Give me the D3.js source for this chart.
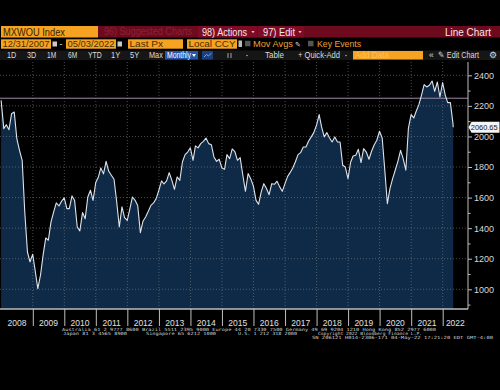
<!DOCTYPE html>
<html lang="en">
<head>
  <meta charset="UTF-8">
  <title>MXWOU Index</title>
  <style>
  body { margin: 0; background: #000; }
  svg { display: block; background: #000; }
  .ui { font-family: "Liberation Sans", Arial, sans-serif; }
  .grid line { stroke: #8a8a8a; stroke-dasharray: 1,2; stroke-opacity: 0.55; }
  .yaxis text { fill: #d8d8d8; font-family: "Liberation Sans", Arial, sans-serif; font-size: 9px; }
  .yaxis line { stroke: #bfbfbf; }
  .yaxis path, .xaxis path { display: none; }
  .xaxis line { stroke: #bfbfbf; }
  .foot { fill: #d0d0d0; font-family: "DejaVu Sans Mono", monospace; font-size: 4.3px; }
  </style>
</head>
<body>
  <svg width="500" height="390"></svg>
  <script src="https://d3js.org/d3.v7.min.js"></script>
  <script>

  // monthly closes, Dec 2007 .. Apr 2022 (month ends)
  var closes = [
    2236, 2051, 2077, 2044, 2149, 2160, 1986, 1909, 1844, 1506, 1244, 1179, 1229,
    1113, 1004, 1092, 1222, 1336, 1321, 1441, 1506, 1565, 1545, 1576, 1598,
    1528, 1528, 1611, 1582, 1408, 1382, 1502, 1462, 1604, 1648, 1582, 1698,
    1735, 1794, 1755, 1837, 1772, 1746, 1720, 1571, 1408, 1539, 1469, 1451,
    1528, 1604, 1582, 1549, 1371, 1445, 1473, 1510, 1549, 1565, 1593, 1648,
    1709, 1689, 1709, 1763, 1713, 1654, 1735, 1713, 1833, 1881, 1898, 1925,
    1844, 1938, 1925, 1953, 1968, 1990, 1953, 1946, 1866, 1837, 1851, 1794,
    1785, 1881, 1855, 1918, 1900, 1844, 1861, 1746, 1641, 1757, 1724, 1676,
    1582, 1556, 1637, 1691, 1659, 1619, 1691, 1687, 1707, 1670, 1641, 1691,
    1739, 1763, 1794, 1833, 1881, 1894, 1931, 1931, 1968, 1997, 2025, 2073,
    2143, 2062, 1997, 2025, 1990, 1964, 1997, 1964, 1964, 1811, 1800, 1724,
    1833, 1872, 1877, 1916, 1829, 1920, 1898, 1851, 1903, 1946, 1975, 2034,
    1990, 1789, 1560, 1659, 1724, 1779, 1837, 1909, 1855, 1779, 2055, 2143,
    2121, 2165, 2208, 2269, 2339, 2324, 2335, 2363, 2295, 2356, 2258, 2352,
    2269, 2221, 2221, 2084
  ];
  var lastDate = '2022-05-03';
  var lastPx = 2060.65;
  var refLevel = 2250;

  var years = [2008, 2009, 2010, 2011, 2012, 2013, 2014, 2015, 2016, 2017, 2018, 2019, 2020, 2021, 2022];
  var yTicks = [1000, 1200, 1400, 1600, 1800, 2000, 2200, 2400];
  var yMinor = [900, 1100, 1300, 1500, 1700, 1900, 2100, 2300];

  var footLines = [
    'Australia 61 2 9777 8600 Brazil 5511 2395 9000 Europe 44 20 7330 7500 Germany 49 69 9204 1210 Hong Kong 852 2977 6000',
    'Japan 81 3 4565 8900',
    'Singapore 65 6212 1000',
    'U.S. 1 212 318 2000',
    'Copyright 2022 Bloomberg Finance L.P.',
    'SN 206121 H014-2306-171 04-May-22 17:21:20 EDT  GMT-4:00'
  ];

  var svg = d3.select('svg');

  var plot = { left: 0, right: 468, top: 62, bottom: 309 };

  var x = d3.scaleTime()
            .domain([new Date(2008, 0, 1), new Date(2022, 0, 1)])
            .range([1.2, 442.7]);

  var y = d3.scaleLinear()
            .domain([1000, 2400])
            .range([289.3, 75.3]);

  // month-end dates for the series, then the last print
  var data = closes.map(function (v, i) {
    var d = d3.timeDay.offset(d3.timeMonth.offset(new Date(2008, 0, 1), i), -1);
    return { date: d, value: v };
  });
  data.push({ date: d3.timeParse('%Y-%m-%d')(lastDate), value: lastPx });

  /* ---------- header bars ---------- */
  var head = svg.append('g').attr('class', 'ui');

  function caret(cx, cy, col) {
    head.append('path')
        .attr('d', 'M' + (cx - 1.6) + ',' + (cy - 1) + ' L' + (cx + 1.6) + ',' + (cy - 1) + ' L' + cx + ',' + (cy + 1.2) + 'Z')
        .attr('fill', col);
  }

  head.append('rect').attr('x', 98).attr('y', 26).attr('width', 402).attr('height', 11.5).attr('fill', '#6e0a1d');
  head.append('rect').attr('x', 198).attr('y', 26).attr('width', 59).attr('height', 11.5).attr('fill', '#7f0c24');
  head.append('rect').attr('x', 258).attr('y', 26).attr('width', 46).attr('height', 11.5).attr('fill', '#7f0c24');
  head.append('rect').attr('x', 1).attr('y', 26).attr('width', 97).attr('height', 11.5).attr('fill', '#f6a321');

  head.append('text').attr('x', 3).attr('y', 35.5).attr('font-size', 10.5).attr('fill', '#3a2200')
      .attr('textLength', 62).attr('lengthAdjust', 'spacingAndGlyphs').text('MXWOU Index');
  head.append('text').attr('x', 104).attr('y', 35.3).attr('font-size', 10).attr('fill', '#8a2238')
      .attr('textLength', 88).attr('lengthAdjust', 'spacingAndGlyphs').text('96) Suggested Charts');
  head.append('text').attr('x', 202).attr('y', 35.5).attr('font-size', 10.5).attr('fill', '#f2e6e8')
      .attr('textLength', 45).attr('lengthAdjust', 'spacingAndGlyphs').text('98) Actions');
  caret(253, 32, '#e0c0c6');
  head.append('text').attr('x', 263).attr('y', 35.5).attr('font-size', 10.5).attr('fill', '#f2e6e8')
      .attr('textLength', 32).attr('lengthAdjust', 'spacingAndGlyphs').text('97) Edit');
  caret(300, 32, '#e0c0c6');
  head.append('text').attr('x', 445).attr('y', 35.5).attr('font-size', 10.5).attr('fill', '#f2e6e8')
      .attr('textLength', 46).attr('lengthAdjust', 'spacingAndGlyphs').text('Line Chart');

  // second row: date range and pricing boxes
  var boxes2 = [
    { x: 1, w: 50, t: '12/31/2007' },
    { x: 66, w: 50, t: '05/03/2022' },
    { x: 128, w: 55, t: 'Last Px' },
    { x: 187, w: 50, t: 'Local CCY' }
  ];
  boxes2.forEach(function (b) {
    head.append('rect').attr('x', b.x).attr('y', 39.3).attr('width', b.w).attr('height', 9.4).attr('fill', '#f6a321');
    head.append('text').attr('x', b.x + 1.5).attr('y', 47.4).attr('font-size', 9.5).attr('fill', '#4a2c00')
        .attr('textLength', b.t.length > 8 ? b.w - 3 : b.t.length * 4.8)
        .attr('lengthAdjust', 'spacingAndGlyphs').text(b.t);
  });
  [52.5, 117.5].forEach(function (cx) {
    head.append('rect').attr('x', cx).attr('y', 41.5).attr('width', 4.5).attr('height', 5).attr('fill', '#c9c9c9');
  });
  head.append('text').attr('x', 59.5).attr('y', 47).attr('font-size', 9).attr('fill', '#ddd').text('-');
  head.append('rect').attr('x', 238.5).attr('y', 40.5).attr('width', 3.5).attr('height', 6.5).attr('fill', '#bbb');
  head.append('rect').attr('x', 245).attr('y', 40.8).attr('width', 5.5).attr('height', 5.5).attr('fill', '#555');
  head.append('text').attr('x', 253).attr('y', 47.4).attr('font-size', 9.5).attr('fill', '#e8a23a')
      .attr('textLength', 40).attr('lengthAdjust', 'spacingAndGlyphs').text('Mov Avgs');
  head.append('text').attr('x', 295).attr('y', 47.2).attr('font-size', 7).attr('fill', '#ddd').text('✎');
  head.append('rect').attr('x', 308).attr('y', 40.8).attr('width', 5.5).attr('height', 5.5).attr('fill', '#555');
  head.append('text').attr('x', 317).attr('y', 47.4).attr('font-size', 9.5).attr('fill', '#e8a23a')
      .attr('textLength', 44).attr('lengthAdjust', 'spacingAndGlyphs').text('Key Events');

  // third row: toolbar
  head.append('rect').attr('x', 0).attr('y', 50.5).attr('width', 500).attr('height', 9.5).attr('fill', '#161616');
  var periods = [['1D', 7], ['3D', 27], ['1M', 47], ['6M', 68], ['YTD', 88], ['1Y', 111], ['5Y', 130], ['Max', 149]];
  periods.forEach(function (p) {
    head.append('text').attr('x', p[1]).attr('y', 58.3).attr('font-size', 8.5).attr('fill', '#dcdcdc')
        .attr('textLength', p[0].length * 4.6).attr('lengthAdjust', 'spacingAndGlyphs').text(p[0]);
  });
  head.append('rect').attr('x', 165).attr('y', 51).attr('width', 33).attr('height', 8.5).attr('fill', '#2457a8');
  head.append('text').attr('x', 167).attr('y', 58.3).attr('font-size', 8.5).attr('fill', '#fff')
      .attr('textLength', 24).attr('lengthAdjust', 'spacingAndGlyphs').text('Monthly');
  head.append('path').attr('d', 'M192,54 L196,54 L194,57Z').attr('fill', '#fff');
  head.append('rect').attr('x', 202).attr('y', 51).attr('width', 11).attr('height', 8.5).attr('fill', '#1d3f7a');
  head.append('path').attr('d', 'M204,57 L206.5,54.5 L208.5,56 L211.5,53').attr('fill', 'none').attr('stroke', '#7fb0ff').attr('stroke-width', 0.9);
  head.append('path').attr('d', 'M228,53 L228,58 M231,53 L231,58').attr('stroke', '#ccc').attr('stroke-width', 0.8);
  head.append('circle').attr('cx', 247).attr('cy', 55.5).attr('r', 0.7).attr('fill', '#ccc');
  head.append('text').attr('x', 265).attr('y', 58.3).attr('font-size', 8.5).attr('fill', '#dcdcdc')
      .attr('textLength', 19).attr('lengthAdjust', 'spacingAndGlyphs').text('Table');
  head.append('text').attr('x', 298).attr('y', 58.3).attr('font-size', 8.5).attr('fill', '#dcdcdc')
      .attr('textLength', 42).attr('lengthAdjust', 'spacingAndGlyphs').text('+ Quick-Add');
  head.append('circle').attr('cx', 346).attr('cy', 55.5).attr('r', 0.7).attr('fill', '#ccc');
  head.append('rect').attr('x', 353).attr('y', 51).attr('width', 70).attr('height', 8.5).attr('fill', '#f6a321');
  head.append('text').attr('x', 355).attr('y', 58.3).attr('font-size', 8.5).attr('fill', '#f8c36a')
      .attr('textLength', 34).attr('lengthAdjust', 'spacingAndGlyphs').text('Add Data');
  head.append('text').attr('x', 429).attr('y', 58.3).attr('font-size', 8.5).attr('fill', '#dcdcdc').text('«');
  head.append('text').attr('x', 438).attr('y', 58.3).attr('font-size', 8.5).attr('fill', '#dcdcdc')
      .attr('textLength', 41).attr('lengthAdjust', 'spacingAndGlyphs').text('✎ Edit Chart');
  head.append('text').attr('x', 489).attr('y', 58.3).attr('font-size', 8.5).attr('fill', '#dcdcdc').text('⚙');

  /* ---------- chart ---------- */
  var area = d3.area()
               .x(function (d) { return x(d.date); })
               .y0(plot.bottom)
               .y1(function (d) { return y(d.value); });

  var line = d3.line()
               .x(function (d) { return x(d.date); })
               .y(function (d) { return y(d.value); });

  svg.append('path').datum(data).attr('d', area).attr('fill', '#0e2a47');

  // dotted grid, drawn over the fill like the terminal does
  var grid = svg.append('g').attr('class', 'grid');
  grid.selectAll('.h').data(yTicks).enter().append('line')
      .attr('x1', plot.left).attr('x2', plot.right)
      .attr('y1', function (d) { return y(d); }).attr('y2', function (d) { return y(d); });
  grid.selectAll('.v').data(years.slice(1)).enter().append('line')
      .attr('x1', function (d) { return x(new Date(d, 0, 1)); })
      .attr('x2', function (d) { return x(new Date(d, 0, 1)); })
      .attr('y1', plot.top).attr('y2', plot.bottom);

  svg.append('line')
     .attr('x1', plot.left).attr('x2', plot.right)
     .attr('y1', y(refLevel)).attr('y2', y(refLevel))
     .attr('stroke', '#9d8aa6').attr('stroke-width', 1);

  svg.append('path').datum(data).attr('d', line)
     .attr('fill', 'none').attr('stroke', '#dde4ec').attr('stroke-width', 1.1)
     .attr('stroke-linejoin', 'round');

  // frame
  svg.append('line').attr('x1', plot.left).attr('x2', plot.right)
     .attr('y1', plot.bottom).attr('y2', plot.bottom)
     .attr('stroke', '#bdbdbd').attr('stroke-width', 1.5);
  svg.append('line').attr('x1', plot.right).attr('x2', plot.right)
     .attr('y1', plot.top).attr('y2', plot.bottom)
     .attr('stroke', '#bdbdbd').attr('stroke-width', 1);

  // right axis
  svg.append('g').attr('class', 'yaxis')
     .attr('transform', 'translate(' + plot.right + ',0)')
     .call(d3.axisRight(y).tickValues(yMinor).tickSize(2.5).tickFormat(''));
  svg.append('g').attr('class', 'yaxis')
     .attr('transform', 'translate(' + plot.right + ',0)')
     .call(d3.axisRight(y).tickValues(yTicks).tickSize(4).tickPadding(2).tickFormat(d3.format('d')));

  // bottom year separators
  svg.append('g').attr('class', 'xaxis')
     .attr('transform', 'translate(0,' + plot.bottom + ')')
     .call(d3.axisBottom(x).tickValues(years.slice(1).map(function (d) { return new Date(d, 0, 1); }))
             .tickSize(17).tickFormat(''));

  svg.append('g').selectAll('text').data(years).enter().append('text')
     .attr('x', function (d) {
       var a = x(new Date(d, 0, 1));
       var b = Math.min(x(new Date(d + 1, 0, 1)), plot.right);
       return (a + b) / 2;
     })
     .attr('y', 325.5)
     .attr('text-anchor', 'middle')
     .attr('font-family', '"Liberation Sans", Arial, sans-serif')
     .attr('font-size', 8.5)
     .attr('fill', '#e0e0e0')
     .text(function (d) { return d; });

  // last price tag
  var ty = y(lastPx);
  svg.append('path')
     .attr('d', 'M' + (plot.right + 0.5) + ',' + ty + ' L' + (plot.right + 3.5) + ',' + (ty - 5.5) +
                ' L499.5,' + (ty - 5.5) + ' L499.5,' + (ty + 5.5) + ' L' + (plot.right + 3.5) + ',' + (ty + 5.5) + 'Z')
     .attr('fill', '#f4f4f4');
  svg.append('text').attr('x', 470.8).attr('y', ty + 2.8)
     .attr('font-family', '"Liberation Sans", Arial, sans-serif').attr('font-size', 7.4)
     .attr('fill', '#111')
     .text(d3.format('.2f')(lastPx));

  /* ---------- footer ---------- */
  var foot = svg.append('g').attr('class', 'foot');
  var footPos = [
    [62, 331.3, 374], [63, 335.2, 64], [146, 335.2, 70], [238, 335.2, 59], [318, 334.8, 104], [312, 339.2, 181]
  ];
  footLines.forEach(function (t, i) {
    foot.append('text').attr('x', footPos[i][0]).attr('y', footPos[i][1])
        .attr('textLength', footPos[i][2]).attr('lengthAdjust', 'spacingAndGlyphs').text(t);
  });

  </script>
</body>
</html>
